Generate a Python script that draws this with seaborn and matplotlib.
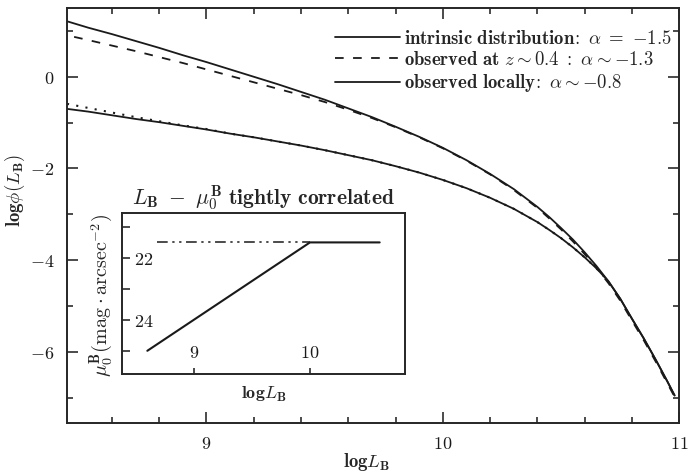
import numpy as np
import pandas as pd
import matplotlib
matplotlib.use("Agg")
import matplotlib.pyplot as plt
import seaborn as sns
from matplotlib.ticker import MultipleLocator, FixedLocator

# ---- data ----
logL = [8.41, 8.5, 8.6, 8.7, 8.8, 8.9, 9.0, 9.1, 9.2, 9.3, 9.4, 9.5, 9.6, 9.7,
        9.8, 9.9, 10.0, 10.1, 10.2, 10.3, 10.4, 10.45, 10.5, 10.55, 10.6, 10.65,
        10.7, 10.75, 10.8, 10.85, 10.9, 10.95, 10.98]
intrinsic = [1.21, 1.07, 0.93, 0.78, 0.63, 0.47, 0.32, 0.16, 0.00, -0.16, -0.33,
             -0.50, -0.69, -0.88, -1.09, -1.31, -1.55, -1.82, -2.12, -2.45, -2.84,
             -3.06, -3.30, -3.55, -3.83, -4.13, -4.46, -4.84, -5.28, -5.71, -6.17,
             -6.65, -6.95]
observed_z = [0.87, 0.80, 0.68, 0.56, 0.43, 0.30, 0.16, 0.02, -0.12, -0.26, -0.40,
              -0.55, -0.72, -0.90, -1.10, -1.32, -1.56, -1.83, -2.13, -2.47, -2.86,
              -3.09, -3.33, -3.59, -3.87, -4.17, -4.50, -4.88, -5.32, -5.75, -6.21,
              -6.69, -6.98]
observed_local = [-0.70, -0.76, -0.84, -0.92, -0.99, -1.07, -1.15, -1.24, -1.32,
                  -1.41, -1.50, -1.60, -1.71, -1.82, -1.95, -2.09, -2.25, -2.43,
                  -2.64, -2.88, -3.17, -3.34, -3.52, -3.72, -3.94, -4.18, -4.46,
                  -4.84, -5.28, -5.71, -6.17, -6.65, -6.95]
dotted_local = [-0.59, -0.68, -0.78, -0.88, -0.97, -1.06, -1.14, -1.24, -1.32,
                -1.41, -1.50, -1.60, -1.71, -1.82, -1.95, -2.09, -2.25, -2.43,
                -2.64, -2.88, -3.17, -3.34, -3.52, -3.72, -3.94, -4.18, -4.46]
dashed_start = 8.44  # dashed curve starts slightly right of the axis

inset_logL = [8.6, 10.0, 10.6]
inset_mu = [25.0, 21.5, 21.5]
inset_flat_logL = [8.68, 10.0]
inset_flat_mu = [21.5, 21.5]

legend_labels = [
    r"$\mathbf{intrinsic\ distribution}\!:\ \alpha\ =\ \mathbf{-1.5}$",
    r"$\mathbf{observed\ at}\ z \sim \mathbf{0.4}\ \mathbf{:}\ \alpha \sim \mathbf{-1.3}$",
    r"$\mathbf{observed\ locally}\!:\ \alpha \sim \mathbf{-0.8}$",
]

# ---- style ----
sns.set_theme(style="ticks")
plt.rcParams["mathtext.fontset"] = "cm"
plt.rcParams["font.family"] = ["DejaVu Serif"]
plt.rcParams["axes.linewidth"] = 1.4

fig = plt.figure(figsize=(6.88, 4.75), dpi=100)
ax = fig.add_axes([0.0974, 0.1095, 0.890, 0.8737])

lw = 1.3
df_int = pd.DataFrame({"x": logL, "y": intrinsic})
xz = [dashed_start] + logL[1:]
df_z = pd.DataFrame({"x": xz, "y": observed_z})
df_loc = pd.DataFrame({"x": logL, "y": observed_local})
df_dot = pd.DataFrame({"x": logL[:len(dotted_local)], "y": dotted_local})

sns.lineplot(data=df_int, x="x", y="y", ax=ax, color="k", lw=lw,
             estimator=None, sort=False, label=legend_labels[0])
sns.lineplot(data=df_z, x="x", y="y", ax=ax, color="k", lw=lw,
             estimator=None, sort=False, label=legend_labels[1],
             dashes=False, linestyle=(0, (4.8, 5.2)))
sns.lineplot(data=df_loc, x="x", y="y", ax=ax, color="k", lw=lw,
             estimator=None, sort=False, label=legend_labels[2])
sns.lineplot(data=df_dot, x="x", y="y", ax=ax, color="k", lw=1.5,
             estimator=None, sort=False, linestyle=(0, (1, 3.5)))

ax.set_xlim(8.41, 11.0)
ax.set_ylim(-7.55, 1.5)
ax.xaxis.set_major_locator(FixedLocator([9, 10, 11]))
ax.xaxis.set_minor_locator(MultipleLocator(0.2))
ax.yaxis.set_major_locator(FixedLocator([-6, -4, -2, 0]))
ax.yaxis.set_minor_locator(MultipleLocator(1))
ax.set_xticklabels([r"$\mathbf{9}$", r"$\mathbf{10}$", r"$\mathbf{11}$"])
ax.set_yticklabels([r"$\mathbf{-6}$", r"$\mathbf{-4}$", r"$\mathbf{-2}$", r"$\mathbf{0}$"])
ax.tick_params(which="both", direction="in", top=True, right=True,
               colors="k", labelsize=13, width=1.1)
ax.tick_params(which="major", length=8, pad=9)
ax.tick_params(which="minor", length=4)
ax.set_xlabel(r"$\mathbf{log}L_\mathbf{B}$", fontsize=13.5)
ax.set_ylabel(r"$\mathbf{log}\phi(L_\mathbf{B})$", fontsize=13.5)
ax.xaxis.set_label_coords(0.49, -0.068)
ax.yaxis.set_label_coords(-0.066, 0.56)

leg = ax.legend(loc="upper right", bbox_to_anchor=(1.006, 0.975), frameon=False,
                fontsize=13.5, handlelength=3.5, handletextpad=0.2,
                labelspacing=0.18, borderaxespad=0.2)
for h in leg.get_lines():
    h.set_color("k")
    h.set_linewidth(lw)

# ---- inset ----
ax_in = fig.add_axes([0.177, 0.2126, 0.412, 0.339])
sns.lineplot(x=inset_logL, y=inset_mu, ax=ax_in, color="k", lw=1.5,
             estimator=None, sort=False)
sns.lineplot(x=inset_flat_logL, y=inset_flat_mu, ax=ax_in, color="k", lw=1.1,
             estimator=None, sort=False,
             linestyle=(0, (7, 3, 1.5, 3, 1.5, 3)))
ax_in.set_xlim(8.38, 10.82)
ax_in.set_ylim(25.75, 20.55)
ax_in.xaxis.set_major_locator(FixedLocator([9, 10]))
ax_in.yaxis.set_major_locator(FixedLocator([22, 24]))
ax_in.yaxis.set_minor_locator(FixedLocator([21, 23, 25]))
ax_in.set_xticklabels([r"$\mathrm{9}$", r"$\mathrm{10}$"])
ax_in.set_yticklabels([r"$\mathbf{22}$", r"$\mathbf{24}$"])
ax_in.tick_params(which="both", direction="in", colors="k", width=1.1)
ax_in.tick_params(axis="y", which="major", length=6, pad=-9, labelsize=13)
ax_in.tick_params(axis="y", which="minor", length=6)
ax_in.tick_params(axis="x", which="major", length=4, pad=-9, labelsize=13)
for t in ax_in.get_yticklabels():
    t.set_ha("left")
for t in ax_in.get_xticklabels():
    t.set_va("bottom")
ax_in.set_title(r"$L_\mathbf{B}\ -\ \mu_0^\mathbf{B}\ \mathbf{tightly\ correlated}$",
                fontsize=15.5, pad=5)
ax_in.set_xlabel(r"$\mathbf{log}L_\mathbf{B}$", fontsize=13)
ax_in.set_ylabel(r"$\mu_0^\mathbf{B}(\mathrm{mag}\cdot\mathrm{arcsec}^{-2})$", fontsize=14.5)
ax_in.xaxis.set_label_coords(0.5, -0.07)
ax_in.yaxis.set_label_coords(-0.02, 0.49)

fig.savefig("out.png", dpi=100)
